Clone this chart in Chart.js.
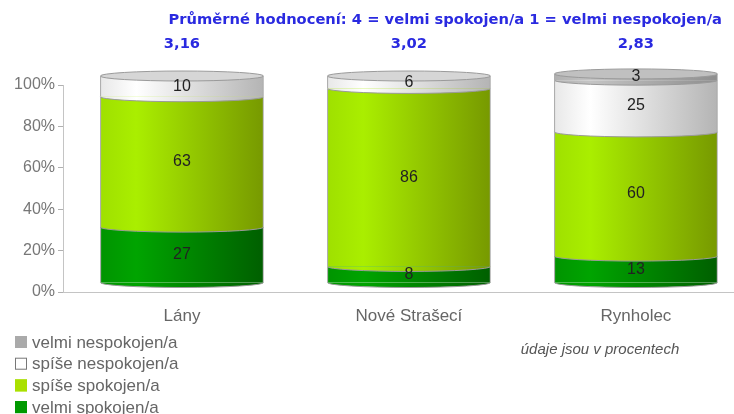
<!DOCTYPE html>
<html>
<head>
<meta charset="utf-8">
<script src="https://cdn.jsdelivr.net/npm/chart.js@4.4.1/dist/chart.umd.min.js"></script>
<style>
  html, body { margin: 0; padding: 0; background: #fff; }
  #wrap { width: 734px; height: 414px; position: relative; }
</style>
</head>
<body>
<div id="wrap"><canvas id="chart" width="734" height="414"></canvas></div>
<script>
// data
const categories = ['Lány', 'Nové Strašecí', 'Rynholec'];
const averages = ['3,16', '3,02', '2,83'];
const seriesNames = ['velmi spokojen/a', 'spíše spokojen/a', 'spíše nespokojen/a', 'velmi nespokojen/a'];
const velmiSpokojen = [27, 8, 13];
const spiseSpokojen = [63, 86, 60];
const spiseNespokojen = [10, 6, 25];
const velmiNespokojen = [0, 0, 3];
const yTicks = [0, 20, 40, 60, 80, 100];
const titleText = 'Průměrné hodnocení: 4 = velmi spokojen/a 1 = velmi nespokojen/a';
const noteText = 'údaje jsou v procentech';

// cylinder shading: left edge, highlight, right edge
const shades = [
  ['#009400', '#00a400', '#005f00'],
  ['#9fe000', '#aaee00', '#779900'],
  ['#e8e8e8', '#ffffff', '#b4b4b4'],
  ['#b0b0b0', '#c4c4c4', '#8e8e8e']
];
const legendColors = ['#009900', '#aae000', '#ffffff', '#aaaaaa'];
const capColors = ['#22aa22', '#bbee33', '#d6d6d6', '#c0c0c0'];

const BAR_W = 163;
const DEPTH = 9;
const RY = 5;
const FONT = '"Liberation Sans", Arial, sans-serif';

function gradientFor(idx) {
  return ctx => {
    const chart = ctx.chart;
    const xs = chart.scales.x;
    if (!chart.chartArea || !xs) return shades[idx][1];
    const cx = xs.getPixelForValue(ctx.dataIndex);
    const g = chart.ctx.createLinearGradient(cx - BAR_W / 2, 0, cx + BAR_W / 2, 0);
    g.addColorStop(0, shades[idx][0]);
    g.addColorStop(0.22, shades[idx][1]);
    g.addColorStop(1, shades[idx][2]);
    return g;
  };
}

const seriesValues = [velmiSpokojen, spiseSpokojen, spiseNespokojen, velmiNespokojen];
const datasets = seriesValues.map((vals, d) => ({
  label: seriesNames[d],
  data: vals.map((v, i) => ({ x: i, y: v })),
  backgroundColor: gradientFor(d),
  borderColor: '#9a9a9a',
  borderWidth: { left: 1, right: 1, top: 0, bottom: 0 },
  borderSkipped: false,
  barThickness: BAR_W,
  clip: false
}));

const cylinders = {
  id: 'cylinders',
  beforeDatasetsDraw(chart) {
    chart.ctx.save();
    chart.ctx.translate(0, -DEPTH);
  },
  afterDatasetsDraw(chart) {
    const ctx = chart.ctx;
    categories.forEach((c, i) => {
      let top = null;
      chart.data.datasets.forEach((ds, d) => {
        const el = chart.getDatasetMeta(d).data[i];
        if (!ds.data[i].y) return;
        ctx.beginPath();
        ctx.ellipse(el.x, el.base, el.width / 2, RY, 0, 0, Math.PI);
        ctx.fillStyle = el.options.backgroundColor;
        ctx.fill();
        ctx.strokeStyle = '#9a9a9a';
        ctx.lineWidth = 1;
        ctx.stroke();
        top = { el, d };
      });
      if (top) {
        ctx.beginPath();
        ctx.ellipse(top.el.x, top.el.y, top.el.width / 2, RY, 0, 0, Math.PI * 2);
        ctx.fillStyle = capColors[top.d];
        ctx.fill();
        ctx.strokeStyle = '#9a9a9a';
        ctx.stroke();
      }
      // values
      ctx.fillStyle = '#222';
      ctx.font = '16px ' + FONT;
      ctx.textAlign = 'center';
      ctx.textBaseline = 'middle';
      chart.data.datasets.forEach((ds, d) => {
        const v = ds.data[i].y;
        if (!v) return;
        const el = chart.getDatasetMeta(d).data[i];
        ctx.fillText(String(v), el.x, (el.y + el.base) / 2);
      });
    });
    ctx.restore();
  },
  afterDraw(chart) {
    const ctx = chart.ctx;
    ctx.save();
    // title and averages
    ctx.fillStyle = '#2a2ae0';
    ctx.font = 'bold 14.7px "DejaVu Sans", Verdana, sans-serif';
    ctx.textBaseline = 'middle';
    ctx.textAlign = 'right';
    ctx.fillText(titleText, 722, 20);
    ctx.textAlign = 'center';
    const xs = chart.scales.x;
    averages.forEach((a, i) => ctx.fillText(a, xs.getPixelForValue(i), 44));
    // note
    ctx.fillStyle = '#555';
    ctx.font = 'italic 15px ' + FONT;
    ctx.fillText(noteText, 600, 350);
    // legend, reversed order
    ctx.font = '17px ' + FONT;
    ctx.textAlign = 'left';
    const order = [3, 2, 1, 0];
    order.forEach((d, k) => {
      const y = 342 + k * 21.7;
      ctx.fillStyle = legendColors[d];
      ctx.fillRect(15, y - 6, 12, 12);
      ctx.strokeStyle = d === 2 ? '#777' : legendColors[d];
      ctx.lineWidth = 1;
      ctx.strokeRect(15.5, y - 5.5, 11, 11);
      ctx.fillStyle = '#666';
      ctx.fillText(seriesNames[d], 32, y + 1);
    });
    ctx.restore();
  }
};

new Chart(document.getElementById('chart'), {
  type: 'bar',
  data: { datasets },
  plugins: [cylinders],
  options: {
    responsive: false,
    animation: false,
    layout: { padding: { top: 85, bottom: 82, left: 0, right: 0 } },
    plugins: { legend: { display: false }, tooltip: { enabled: false } },
    scales: {
      x: {
        type: 'linear',
        stacked: true,
        offset: false,
        min: -0.524,
        max: 2.432,
        afterBuildTicks: axis => { axis.ticks = categories.map((c, i) => ({ value: i })); },
        afterFit: axis => { axis.height = 40; },
        ticks: {
          callback: v => categories[v] ?? '',
          color: '#666',
          font: { family: FONT, size: 17 },
          padding: 6,
          maxRotation: 0
        },
        grid: { display: false },
        border: { display: true, color: '#c4c4c4' }
      },
      y: {
        stacked: true,
        min: 0,
        max: 100,
        afterBuildTicks: axis => { axis.ticks = yTicks.map(v => ({ value: v })); },
        afterFit: axis => { axis.width = 63; },
        ticks: {
          callback: v => v + '%',
          color: '#777',
          font: { family: FONT, size: 16 },
          padding: 3
        },
        grid: { drawOnChartArea: false, drawTicks: true, tickLength: 5, color: '#b0b0b0' },
        border: { display: true, color: '#c4c4c4' }
      }
    }
  }
});
</script>
</body>
</html>
